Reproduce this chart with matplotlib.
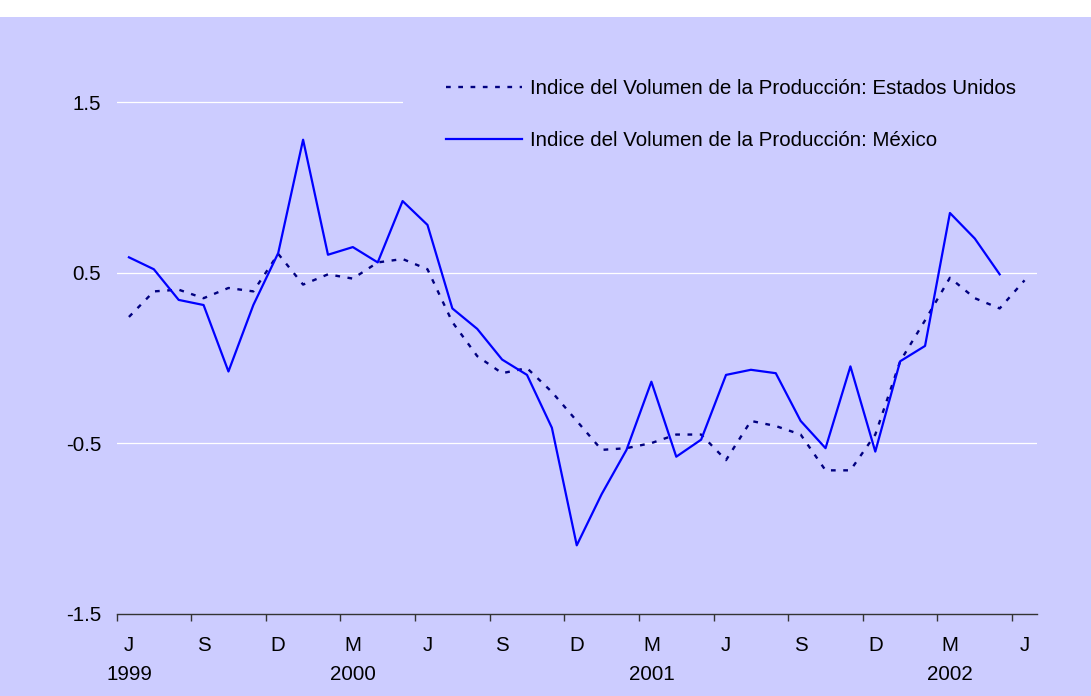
import matplotlib
matplotlib.use('Agg')
from matplotlib import pyplot as plt
from matplotlib.patches import Rectangle

plt.rcParams['font.family'] = ['Liberation Sans', 'DejaVu Sans']

# meses desde junio 1999 hasta junio 2002
month_labels = ['J\n1999', 'S', 'D', 'M\n2000', 'J', 'S', 'D', 'M\n2001', 'J', 'S', 'D', 'M\n2002', 'J']

usa = [0.24, 0.39, 0.40, 0.35, 0.41, 0.39, 0.61, 0.43, 0.49, 0.465, 0.56, 0.58, 0.52,
       0.21, 0.01, -0.09, -0.06, -0.20, -0.37, -0.54, -0.53, -0.50, -0.45, -0.45,
       -0.60, -0.37, -0.40, -0.45, -0.66, -0.66, -0.45, -0.02, 0.22, 0.47, 0.35, 0.29, 0.455]

mexico = [0.59, 0.52, 0.34, 0.31, -0.08, 0.31, 0.615, 1.28, 0.605, 0.65, 0.56, 0.92, 0.78,
          0.29, 0.17, -0.01, -0.10, -0.41, -1.10, -0.80, -0.54, -0.14, -0.58, -0.48,
          -0.10, -0.07, -0.09, -0.37, -0.53, -0.05, -0.55, -0.02, 0.07, 0.85, 0.70, 0.49]

usa_name = 'Indice del Volumen de la Producción: Estados Unidos'
mex_name = 'Indice del Volumen de la Producción: México'

bg = '#CCCCFF'
W, H = 1091, 696
fs = 14.8

fig = plt.figure(figsize=(W / 100, H / 100), dpi=100)
fig.patches.append(Rectangle((0, 0), 1, 1 - 17 / H, transform=fig.transFigure,
                             facecolor=bg, edgecolor='none', zorder=-10))

ax = fig.add_axes([116.5 / W, 1 - 613.5 / H, (1037 - 116.5) / W, (613.5 - 17) / H])
ax.set_facecolor(bg)

xs_usa = [i + 0.5 for i, _ in enumerate(usa)]
xs_mex = [i + 0.5 for i, _ in enumerate(mexico)]

ax.plot(xs_usa, usa, color='#000080', lw=1.7, linestyle=(0, (2.0, 3.2)), label=usa_name, zorder=3)
ax.plot(xs_mex, mexico, color='#0000FF', lw=1.6, label=mex_name, zorder=3)

ax.set_xlim(0, len(usa))
ax.set_ylim(-1.5, 2.0)

# rejilla blanca
for v in [-0.5, 0.5, 1.5]:
    ax.axhline(v, color='white', lw=0.9, zorder=1)

ax.set_yticks([-1.5, -0.5, 0.5, 1.5])
ax.set_yticklabels(['-1.5', '-0.5', '0.5', '1.5'])
ax.tick_params(axis='y', length=0, pad=11, labelsize=fs, colors='black')

ax.set_xticks([3 * i for i in range(13)])
ax.set_xticklabels([])
ax.set_xticks([3 * i + 0.5 for i in range(13)], minor=True)
ax.set_xticklabels(month_labels, minor=True, linespacing=1.67)
ax.tick_params(axis='x', which='major', length=5, width=1, color='#333333', direction='out')
ax.tick_params(axis='x', which='minor', length=0, pad=16.5, labelsize=fs, labelcolor='black')

for s in ['top', 'right', 'left']:
    ax.spines[s].set_visible(False)
ax.spines['bottom'].set_color('#333333')
ax.spines['bottom'].set_linewidth(1)

leg = ax.legend(loc='upper left', bbox_to_anchor=(403 / W, 1 - 36.5 / H), bbox_transform=fig.transFigure,
                fontsize=fs, frameon=True, facecolor=bg, edgecolor='none', framealpha=1,
                borderpad=2.07, borderaxespad=0, handlelength=3.7, handletextpad=0.4,
                labelspacing=1.59, fancybox=False)
leg.set_zorder(5)

fig.savefig('out.png', dpi=100, facecolor='white')
